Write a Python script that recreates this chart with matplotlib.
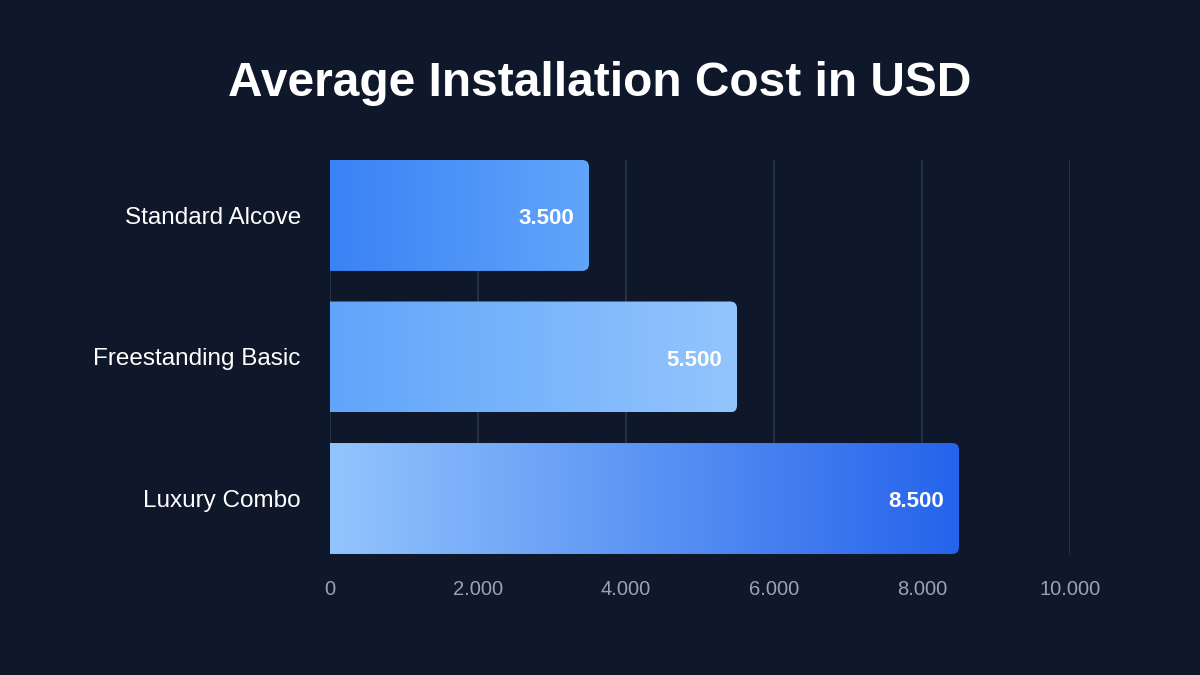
import matplotlib
matplotlib.use("Agg")

import matplotlib.pyplot as plt
import numpy as np
from matplotlib.colors import LinearSegmentedColormap
from matplotlib.path import Path
from matplotlib.patches import PathPatch
from matplotlib.ticker import FuncFormatter

categories = ["Standard Alcove", "Freestanding Basic", "Luxury Combo"]
costs = [3500, 5500, 8500]
gradients = [("#3b82f6", "#60a5fa"), ("#60a5fa", "#93c5fd"), ("#93c5fd", "#2563eb")]
xticks = [0, 2000, 4000, 6000, 8000, 10000]

BG = "#0f172a"
GRID = "#263043"

plt.rcParams["font.family"] = ["Liberation Sans", "DejaVu Sans"]

fig = plt.figure(figsize=(12, 6.75), dpi=100, facecolor=BG)
ax = fig.add_axes([0.275, 0.1793, 0.6167, 0.5837], facecolor=BG)

bar_h = 0.784
xmin, xmax = 0, 10000
ymin, ymax = -bar_h / 2, len(costs) - 1 + bar_h / 2

# corner radius in data units (about 7 px)
ax_w_px = 0.6167 * 1200
ax_h_px = 0.5837 * 675
rx = 7 / ax_w_px * (xmax - xmin)
ry = 7 / ax_h_px * (ymax - ymin)


def right_rounded(x0, x1, y0, y1):
    verts = [(x0, y0), (x1 - rx, y0), (x1, y0), (x1, y0 + ry),
             (x1, y1 - ry), (x1, y1), (x1 - rx, y1), (x0, y1), (x0, y0)]
    codes = [Path.MOVETO, Path.LINETO, Path.CURVE3, Path.CURVE3,
             Path.LINETO, Path.CURVE3, Path.CURVE3, Path.LINETO, Path.CLOSEPOLY]
    return Path(verts, codes)


for i, (val, (c0, c1)) in enumerate(zip(costs, gradients)):
    y0, y1 = i - bar_h / 2, i + bar_h / 2
    patch = PathPatch(right_rounded(0, val, y0, y1), facecolor="none", edgecolor="none")
    ax.add_patch(patch)
    cmap = LinearSegmentedColormap.from_list(f"g{i}", [c0, c1])
    grad = np.linspace(0, 1, 256).reshape(1, -1)
    im = ax.imshow(grad, cmap=cmap, aspect="auto", extent=[0, val, y1, y0],
                   interpolation="bicubic", zorder=3)
    im.set_clip_path(patch)
    ax.annotate(f"{val:,}".replace(",", "."), xy=(val, i), xytext=(-11, -2.5),
                textcoords="offset points", ha="right", va="center",
                color="white", fontsize=16, fontweight="bold", zorder=4)

ax.set_xlim(xmin, xmax)
ax.set_ylim(ymax, ymin)

ax.set_xticks(xticks)
ax.xaxis.set_major_formatter(FuncFormatter(lambda v, p: f"{int(v):,}".replace(",", ".")))
ax.set_yticks(range(len(categories)))
ax.set_yticklabels(categories, va="center_baseline")

ax.tick_params(axis="x", length=0, pad=19, labelsize=14.5, labelcolor="#9ca3af")
ax.tick_params(axis="y", length=0, pad=21, labelsize=17.5, labelcolor="white")

ax.grid(axis="x", color=GRID, linewidth=1.5, zorder=0)
ax.set_axisbelow(True)
for s in ax.spines.values():
    s.set_visible(False)

fig.text(0.5, 0.877, "Average Installation Cost in USD", ha="center", va="center",
         color="white", fontsize=34.5, fontweight="bold")

fig.savefig("out.png", dpi=100, facecolor=BG)
